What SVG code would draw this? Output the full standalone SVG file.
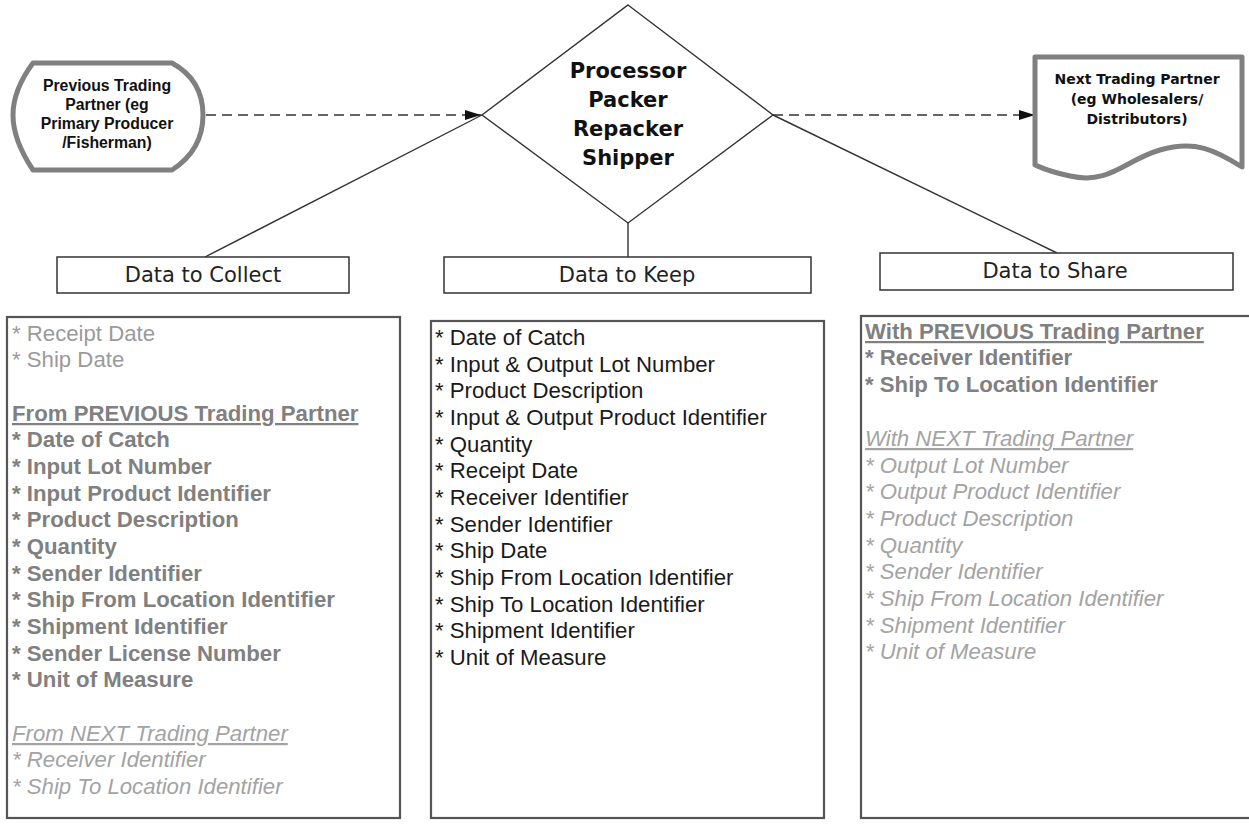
<svg xmlns="http://www.w3.org/2000/svg" width="1249" height="825" viewBox="0 0 1249 825">
<style>
.hdr{font-family:"DejaVu Sans",Verdana,sans-serif;font-size:21px;fill:#222;text-anchor:middle}
.hbox{fill:#fff;stroke:#333;stroke-width:1.5}
.cbox{fill:#fff;stroke:#555;stroke-width:2.2}
.li{font-family:"Liberation Sans",Arial,sans-serif;font-size:22.2px}
.blk{fill:#1a1a1a}
.lg{fill:#9a9a9a}
.bg{fill:#808080;font-weight:bold}
.it{fill:#a3a3a3;font-style:italic}
.ul{text-decoration:underline}
.conn{stroke:#333;stroke-width:1.4;fill:none}
.dash{stroke:#333;stroke-width:1.5;fill:none;stroke-dasharray:10 6}
.thick{fill:#fff;stroke:#808080;stroke-width:5;stroke-linejoin:round}
</style>
<defs>
<marker id="arr" viewBox="0 0 16 10" refX="16" refY="5" markerWidth="16" markerHeight="10" markerUnits="userSpaceOnUse" orient="auto">
<path d="M0,0 L16,5 L0,10 z" fill="#111"/>
</marker>
</defs>

<g id="connectors">
<line class="dash" x1="206" y1="115" x2="481" y2="115" marker-end="url(#arr)"/>
<line class="dash" x1="773" y1="115" x2="1035" y2="115" marker-end="url(#arr)"/>
<line class="conn" x1="482" y1="115" x2="205" y2="257"/>
<line class="conn" x1="773" y1="115" x2="1057" y2="253"/>
<line class="conn" x1="628" y1="223" x2="628" y2="257"/>
</g>

<g id="previous-partner">
<path class="thick" d="M33,63 L172,63 Q203,80 203,115 Q203,150 172,170 L33,170 Q13,140 13,115 Q13,90 33,63 Z"/>
<g font-family="'Liberation Sans',Arial,sans-serif" font-weight="bold" font-size="15.8" fill="#111" text-anchor="middle">
<text x="107" y="91">Previous Trading</text>
<text x="107" y="110">Partner (eg</text>
<text x="107" y="129">Primary Producer</text>
<text x="107" y="148">/Fisherman)</text>
</g>
</g>

<g id="processor">
<polygon points="628,5 773,115 628,223 482,115" fill="#fff" stroke="#333" stroke-width="1.4"/>
<g font-family="'DejaVu Sans',Verdana,sans-serif" font-weight="bold" font-size="21" fill="#111" text-anchor="middle">
<text x="628" y="78">Processor</text>
<text x="628" y="107">Packer</text>
<text x="628" y="136">Repacker</text>
<text x="628" y="165">Shipper</text>
</g>
</g>

<g id="next-partner">
<path class="thick" d="M1035,57 L1242,57 L1242,167 C1215,150 1195,140 1160,150 C1125,160 1110,185 1070,176 C1050,172 1042,168 1035,165 Z"/>
<g font-family="'DejaVu Sans',Verdana,sans-serif" font-weight="bold" font-size="14" fill="#111" text-anchor="middle">
<text x="1137" y="84">Next Trading Partner</text>
<text x="1137" y="104">(eg Wholesalers/</text>
<text x="1137" y="124">Distributors)</text>
</g>
</g>

<g id="collect-header">
<rect class="hbox" x="57" y="257" width="292" height="36"/>
<text class="hdr" x="203" y="282">Data to Collect</text>
</g>
<g id="keep-header">
<rect class="hbox" x="444" y="257" width="367" height="36"/>
<text class="hdr" x="627" y="282">Data to Keep</text>
</g>
<g id="share-header">
<rect class="hbox" x="880" y="253" width="353" height="37"/>
<text class="hdr" x="1055" y="278">Data to Share</text>
</g>

<g id="collect-list">
<rect class="cbox" x="7" y="317" width="393" height="501"/>
<g class="li">
<text class="lg" x="12" y="341">* Receipt Date</text>
<text class="lg" x="12" y="367">* Ship Date</text>
<text class="bg ul" x="12" y="421">From PREVIOUS Trading Partner</text>
<text class="bg" x="12" y="447">* Date of Catch</text>
<text class="bg" x="12" y="474">* Input Lot Number</text>
<text class="bg" x="12" y="501">* Input Product Identifier</text>
<text class="bg" x="12" y="527">* Product Description</text>
<text class="bg" x="12" y="554">* Quantity</text>
<text class="bg" x="12" y="581">* Sender Identifier</text>
<text class="bg" x="12" y="607">* Ship From Location Identifier</text>
<text class="bg" x="12" y="634">* Shipment Identifier</text>
<text class="bg" x="12" y="661">* Sender License Number</text>
<text class="bg" x="12" y="687">* Unit of Measure</text>
<text class="it ul" x="12" y="741">From NEXT Trading Partner</text>
<text class="it" x="12" y="767">* Receiver Identifier</text>
<text class="it" x="12" y="794">* Ship To Location Identifier</text>
</g>
</g>

<g id="keep-list">
<rect class="cbox" x="431" y="321" width="393" height="497"/>
<g class="li blk">
<text x="435" y="345">* Date of Catch</text>
<text x="435" y="372">* Input &amp; Output Lot Number</text>
<text x="435" y="398">* Product Description</text>
<text x="435" y="425">* Input &amp; Output Product Identifier</text>
<text x="435" y="452">* Quantity</text>
<text x="435" y="478">* Receipt Date</text>
<text x="435" y="505">* Receiver Identifier</text>
<text x="435" y="532">* Sender Identifier</text>
<text x="435" y="558">* Ship Date</text>
<text x="435" y="585">* Ship From Location Identifier</text>
<text x="435" y="612">* Ship To Location Identifier</text>
<text x="435" y="638">* Shipment Identifier</text>
<text x="435" y="665">* Unit of Measure</text>
</g>
</g>

<g id="share-list">
<rect class="cbox" x="861" y="316" width="400" height="502"/>
<g class="li">
<text class="bg ul" x="865" y="339">With PREVIOUS Trading Partner</text>
<text class="bg" x="865" y="365">* Receiver Identifier</text>
<text class="bg" x="865" y="392">* Ship To Location Identifier</text>
<text class="it ul" x="865" y="446">With NEXT Trading Partner</text>
<text class="it" x="865" y="473">* Output Lot Number</text>
<text class="it" x="865" y="499">* Output Product Identifier</text>
<text class="it" x="865" y="526">* Product Description</text>
<text class="it" x="865" y="553">* Quantity</text>
<text class="it" x="865" y="579">* Sender Identifier</text>
<text class="it" x="865" y="606">* Ship From Location Identifier</text>
<text class="it" x="865" y="633">* Shipment Identifier</text>
<text class="it" x="865" y="659">* Unit of Measure</text>
</g>
</g>
</svg>
